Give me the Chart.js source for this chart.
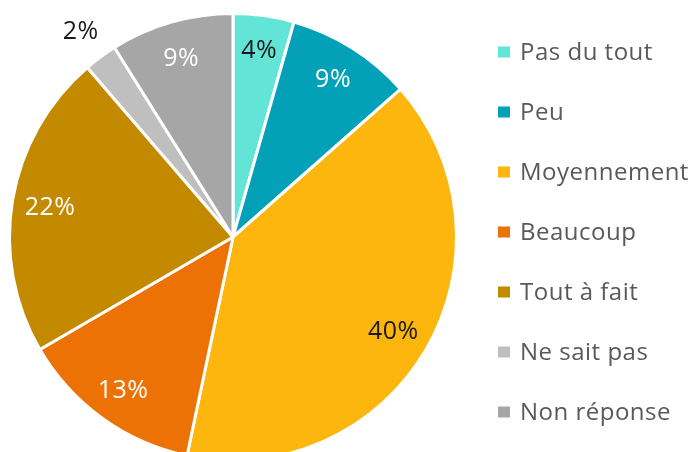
<!DOCTYPE html>
<html>
<head>
<meta charset="utf-8">
<script src="https://cdn.jsdelivr.net/npm/chart.js@4.4.1/dist/chart.umd.min.js"></script>
<style>
  html, body { margin: 0; padding: 0; background: #ffffff; overflow: hidden; }
  #wrap { width: 695px; height: 452px; overflow: hidden; position: relative; }
  canvas { display: block; }
</style>
</head>
<body>
<div id="wrap"><canvas id="c" width="695" height="470"></canvas></div>
<script>
const categories = ["Pas du tout", "Peu", "Moyennement", "Beaucoup", "Tout à fait", "Ne sait pas", "Non réponse"];
const values = [4.4, 9.1, 39.8, 13.3, 22.1, 2.4, 8.9];
const colors = ["#62E5D6", "#02A1B8", "#FDB60E", "#EC7206", "#C38A00", "#BFBFBF", "#A6A6A6"];
const labelColors = ["#1a1a1a", "#ffffff", "#1a1a1a", "#ffffff", "#ffffff", "#1a1a1a", "#ffffff"];
const labelRadius = [0.85, 0.84, 0.83, 0.84, 0.83, 1.15, 0.84];

const FONT = '"Open Sans", "Noto Sans", sans-serif';

const sliceLabels = {
  id: 'sliceLabels',
  afterDatasetsDraw(chart) {
    const ctx = chart.ctx;
    const meta = chart.getDatasetMeta(0);
    const total = values.reduce((a, b) => a + b, 0);
    ctx.save();
    ctx.font = '25px ' + FONT;
    ctx.letterSpacing = '0.5px';
    ctx.textAlign = 'center';
    ctx.textBaseline = 'alphabetic';
    meta.data.forEach((arc, i) => {
      const p = arc.getProps(['x', 'y', 'startAngle', 'endAngle', 'outerRadius'], true);
      const mid = (p.startAngle + p.endAngle) / 2;
      const r = p.outerRadius * labelRadius[i];
      const x = p.x + Math.cos(mid) * r;
      const y = p.y + Math.sin(mid) * r;
      ctx.fillStyle = labelColors[i];
      ctx.fillText(Math.round(values[i] / total * 100) + '%', x, y + 9);
    });
    ctx.restore();
  }
};

const sideLegend = {
  id: 'sideLegend',
  afterDraw(chart) {
    const ctx = chart.ctx;
    ctx.save();
    ctx.font = '24px ' + FONT;
    ctx.letterSpacing = '0.5px';
    ctx.textAlign = 'left';
    ctx.textBaseline = 'alphabetic';
    categories.forEach((name, i) => {
      const y = 52 + i * 60;
      ctx.fillStyle = colors[i];
      ctx.fillRect(498, y - 5.5, 12, 11);
      ctx.fillStyle = '#595959';
      ctx.fillText(name, 520, y + 8);
    });
    ctx.restore();
  }
};

new Chart(document.getElementById('c'), {
  type: 'pie',
  data: {
    labels: categories,
    datasets: [{
      data: values,
      backgroundColor: colors,
      borderColor: '#ffffff',
      borderWidth: 3,
      hoverOffset: 0,
      offset: 0
    }]
  },
  options: {
    responsive: false,
    animation: false,
    layout: { padding: { left: 8, top: 12, right: 237, bottom: 8 } },
    plugins: {
      legend: { display: false },
      tooltip: { enabled: false }
    }
  },
  plugins: [sliceLabels, sideLegend]
});
</script>
</body>
</html>
